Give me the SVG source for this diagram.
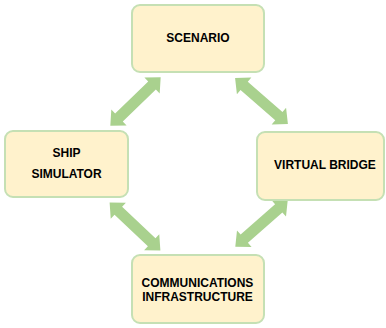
<svg xmlns="http://www.w3.org/2000/svg" width="386" height="328" viewBox="0 0 386 328">
<defs>
<style>
.box{fill:#fff2cc;stroke:#c5e0b4;stroke-width:2}
.lbl{font-family:"Liberation Sans",Arial,sans-serif;font-weight:bold;font-size:12px;fill:#000;text-anchor:middle}
.arr{fill:#a9d18e}
</style>
<polygon id="dbl" points="-35,0 -23,-11 -23,-5.5 23,-5.5 23,-11 35,0 23,11 23,5.5 -23,5.5 -23,11"/>
</defs>
<rect width="386" height="328" fill="#ffffff"/>
<g id="connectors" class="arr">
<use href="#dbl" transform="translate(135.5,101.5) rotate(-44)"/>
<use href="#dbl" transform="translate(261.5,101) rotate(41)"/>
<use href="#dbl" transform="translate(135,226.5) rotate(43.5)"/>
<use href="#dbl" transform="translate(261.5,223.5) rotate(-41.5)"/>
</g>
<g id="scenario">
<rect class="box" x="132" y="5" width="132" height="67" rx="8"/>
<text class="lbl" x="198" y="41.5">SCENARIO</text>
</g>
<g id="ship-simulator">
<rect class="box" x="5" y="131" width="123" height="66" rx="8"/>
<text class="lbl" x="66.5" y="156.5">SHIP</text>
<text class="lbl" x="66.5" y="177.5">SIMULATOR</text>
</g>
<g id="virtual-bridge">
<rect class="box" x="257" y="132" width="127" height="68" rx="8"/>
<text class="lbl" x="325" y="168.5">VIRTUAL BRIDGE</text>
</g>
<g id="communications-infrastructure">
<rect class="box" x="132" y="255" width="132" height="68" rx="8"/>
<text class="lbl" x="197.5" y="286.5">COMMUNICATIONS</text>
<text class="lbl" x="197.5" y="300.5">INFRASTRUCTURE</text>
</g>
</svg>
